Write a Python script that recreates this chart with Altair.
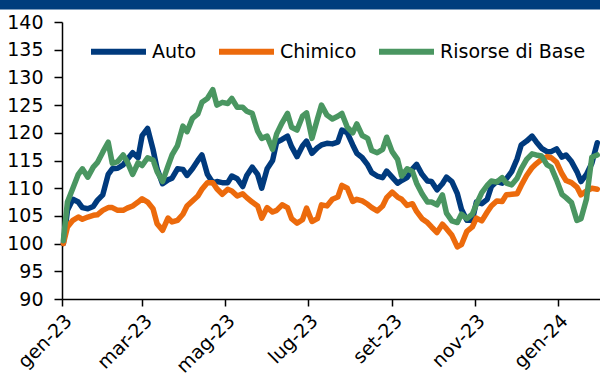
import altair as alt
import pandas as pd

serie_nomi = ["Auto", "Chimico", "Risorse di Base"]
colori = ["#003A7D", "#EC6A0C", "#4A9661"]

auto = [100, 106, 108, 107.5, 106.5, 106.3, 106.7, 107.8, 108.8, 112.5,
        113.5, 113.6, 114.2, 115.2, 116.4, 115.5, 119.5, 120.8, 117, 113.5,
        110.8, 111.5, 111.8, 113.5, 113.4, 112.3, 113.5, 115, 116, 112.5,
        111, 111.2, 111, 111, 112.2, 111.7, 110.3, 112.3, 113.8, 112.5,
        110, 113.5, 115, 118.3, 118.8, 119.4, 117.5, 115.7, 117.6, 118.5,
        116.3, 117.3, 117.8, 118.1, 118, 118.3, 120.5, 120, 117.8, 116.3,
        115.5, 114.2, 112.8, 112.2, 111.9, 113.1, 112, 110.9, 111.4, 111.9,
        113.5, 114.3, 112.5, 111.3, 111.2, 109.7, 110.8, 112, 111.2, 109,
        106.2, 104.2, 104.2, 107.5, 107.2, 108, 110.3, 111.2, 110.9, 111.7,
        113, 115.3, 117.8, 118.5, 119.4, 118.4, 117.2, 116.6, 116.6, 117.1,
        115.6, 116, 114.8, 113, 111.2, 112.5, 114.5, 118.2]

chimico = [100, 103, 104.2, 104.8, 104.4, 104.8, 105.1, 105.2, 106, 106.5,
           106.5, 106, 106, 106.4, 106.8, 107.5, 108.1, 107.5, 106.3, 103.6,
           102.4, 104.6, 103.9, 104.2, 105.3, 106.8, 107.7, 108.6, 109.8, 111,
           111, 109.9, 108.9, 109.8, 109.5, 108.6, 109, 108.3, 107.5, 106.8,
           104.6, 106.5, 105.7, 106, 107, 106.5, 104.5, 103.7, 104.3, 106.4,
           104, 104.5, 107, 106.8, 108, 108.4, 110.5, 110, 107.6, 108,
           107.7, 107.1, 106.5, 105.9, 106.8, 108.3, 109.3, 108.4, 108, 106.9,
           107.2, 105.8, 104.5, 103.8, 103, 102, 103.5, 102.7, 101.5, 99.4,
           99.8, 102.2, 103, 104.6, 104.1, 105.7, 106.8, 107.7, 107.6, 108.8,
           108.9, 109, 110.5, 112.3, 113.7, 114.4, 115.2, 115.7, 115.5, 114.7,
           112.6, 111.4, 111, 110.2, 108.8, 109.5, 110, 109.8]

risorse = [100.5, 107.5, 110, 112.5, 113.5, 112, 113.8, 114.6, 116.5, 118.3,
           114.5, 114.8, 116, 114.8, 112.5, 114.6, 114.1, 115.5, 115.1, 113,
           111.2, 114, 116, 117.7, 121.2, 120.2, 122.6, 123.4, 125.5, 126.2,
           127.8, 125, 125.5, 125.3, 126.2, 124.6, 124.6, 123.9, 123.5, 120.3,
           119, 119.4, 117, 119.8, 121.8, 123.5, 121, 120.5, 123, 123.6,
           119, 122.5, 125, 123.2, 122.5, 123, 123.5, 121, 120, 121.6,
           119.5, 119, 116.8, 116.4, 117, 119.2, 116.6, 115.2, 112.2, 113.5,
           113, 110.9, 109, 107.5, 107.5, 107, 108.8, 105.5, 104.1, 103.8,
           105.3, 104.5, 105.3, 107.1, 109.2, 110.5, 111.3, 111.1, 111.9, 110.9,
           110.6, 111.8, 113.5, 115.2, 116.2, 116, 115.8, 114.2, 113.8, 111.5,
           108.9, 108.3, 107.4, 104.2, 104.5, 108, 115.6, 116]

date = pd.date_range("2023-01-02", "2024-01-30", periods=len(auto))

rows = []
for nome, valori in zip(serie_nomi, [auto, chimico, risorse]):
    for d, v in zip(date, valori):
        rows.append({"data": d.strftime("%Y-%m-%d"), "serie": nome, "valore": v})
df = pd.DataFrame(rows)

mesi = "['gen','feb','mar','apr','mag','giu','lug','ago','set','ott','nov','dic']"
tick_vals = [alt.DateTime(year=2023, month=m, date=1) for m in (1, 3, 5, 7, 9, 11)] + [
    alt.DateTime(year=2024, month=1, date=1)]

FONT = "DejaVu Sans"

lines = alt.Chart(df).mark_line(strokeWidth=5.5, strokeJoin="round", strokeCap="round").encode(
    x=alt.X("data:T",
            scale=alt.Scale(domain=[alt.DateTime(year=2023, month=1, date=1),
                                    alt.DateTime(year=2024, month=2, date=1)]),
            axis=alt.Axis(values=tick_vals, title=None, grid=False,
                          labelExpr=mesi + "[month(datum.value)] + '-' + timeFormat(datum.value, '%y')",
                          labelAngle=-45, tickSize=7, labelPadding=5,
                          labelFont=FONT, labelFontSize=19, labelColor="#000000")),
    y=alt.Y("valore:Q",
            scale=alt.Scale(domain=[90, 140], nice=False, zero=False),
            axis=alt.Axis(values=list(range(90, 141, 5)), title=None, grid=False,
                          tickSize=8, labelPadding=11,
                          labelFont=FONT, labelFontSize=19, labelColor="#000000")),
    color=alt.Color("serie:N",
                    scale=alt.Scale(domain=serie_nomi, range=colori),
                    legend=alt.Legend(title=None, orient="none", direction="horizontal",
                                      legendX=26, legendY=-1,
                                      symbolType="stroke", symbolSize=3025,
                                      symbolStrokeWidth=6, labelOffset=3,
                                      columnPadding=10, labelFontSize=19,
                                      labelFont=FONT, labelColor="#000000")),
)

barra = alt.Chart(pd.DataFrame({"a": [0]})).mark_rule(color="#003D7D", strokeWidth=9.5).encode(
    x=alt.value(-62), x2=alt.value(538), y=alt.value(-17.25))

chart = alt.layer(barra, lines).properties(
    width=538, height=277,
    autosize=alt.AutoSizeParams(type="none"),
    padding={"left": 62, "right": 0, "top": 22, "bottom": 77},
    background="white",
).configure_view(stroke=None).configure_axis(
    domainColor="#000000", domainWidth=1.5, tickColor="#000000", tickWidth=1.5,
)

chart.save("out.html", embed_options={"renderer": "svg", "actions": False})
